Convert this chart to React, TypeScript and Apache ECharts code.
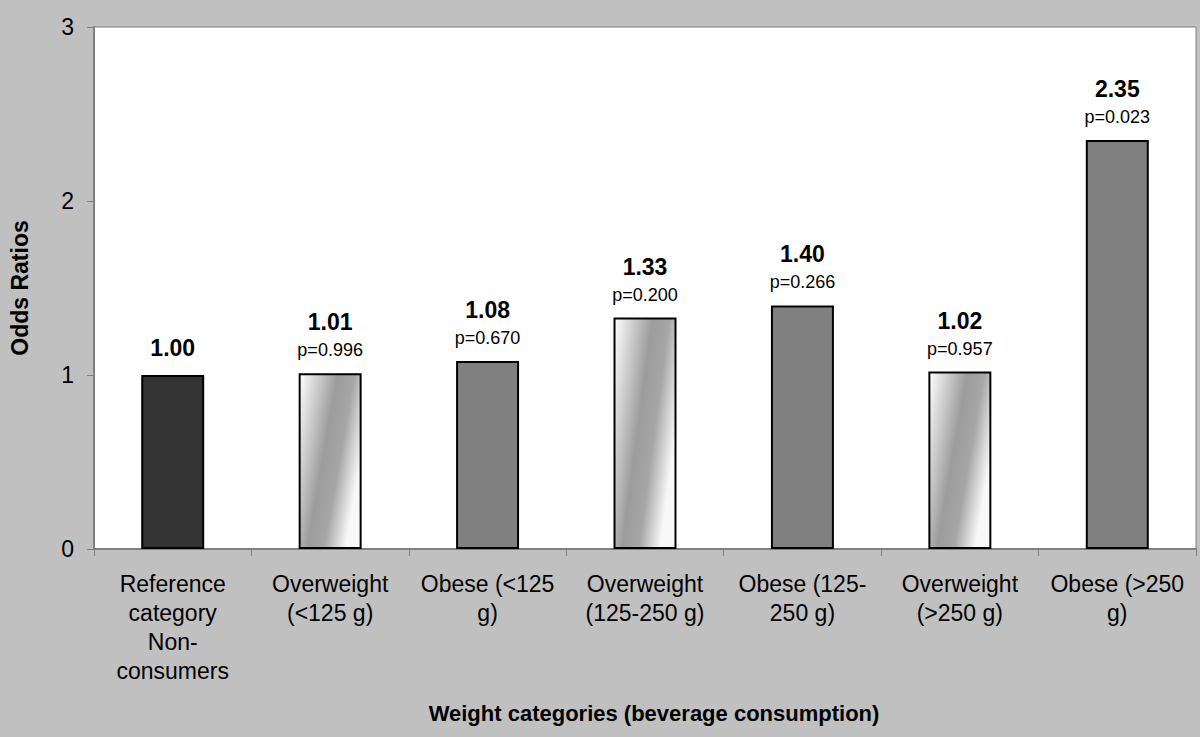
import React, { useEffect, useRef } from "react";
import * as echarts from "echarts";

const categories = [
  "Reference\ncategory\nNon-\nconsumers",
  "Overweight\n(<125 g)",
  "Obese (<125\ng)",
  "Overweight\n(125-250 g)",
  "Obese (125-\n250 g)",
  "Overweight\n(>250 g)",
  "Obese (>250\ng)",
];
const oddsRatios = [1.0, 1.01, 1.08, 1.33, 1.4, 1.02, 2.35];
const pValues = ["", "p=0.996", "p=0.670", "p=0.200", "p=0.266", "p=0.957", "p=0.023"];
const barKinds = ["reference", "overweight", "obese", "overweight", "obese", "overweight", "obese"];
const yTicks = [0, 1, 2, 3];

const FONT = "Liberation Sans, Arial, sans-serif";

function fillFor(kind: string): any {
  if (kind === "reference") return "#333333";
  if (kind === "obese") return "#808080";
  return new echarts.graphic.LinearGradient(0, 0, 1, 0.5, [
    { offset: 0, color: "#ffffff" },
    { offset: 0.5, color: "#9c9c9c" },
    { offset: 0.72, color: "#a6a6a6" },
    { offset: 1, color: "#f8f8f8" },
  ]);
}

export default function App() {
  const ref = useRef<HTMLDivElement>(null);
  useEffect(() => {
    if (!ref.current) return;
    const chart = echarts.init(ref.current, undefined, { renderer: "svg" });
    chart.setOption({
      animation: false,
      backgroundColor: "#c0c0c0",
      textStyle: { fontFamily: FONT },
      grid: {
        left: 89,
        right: 4,
        top: 27,
        bottom: 188,
        show: true,
        backgroundColor: "#ffffff",
        borderColor: "#808080",
        borderWidth: 1,
      },
      xAxis: {
        type: "category",
        data: categories,
        name: "Weight categories (beverage consumption)",
        nameLocation: "middle",
        nameGap: 153,
        nameTextStyle: {
          fontFamily: FONT,
          fontWeight: "bold",
          fontSize: 22,
          color: "#000",
          padding: [0, 0, 0, 18],
        },
        axisLine: { lineStyle: { color: "#808080", width: 2 } },
        axisTick: { show: true, alignWithLabel: false, length: 7, lineStyle: { color: "#808080" } },
        axisLabel: {
          interval: 0,
          fontFamily: FONT,
          fontSize: 23,
          color: "#000",
          lineHeight: 29,
          margin: 20,
        },
      },
      yAxis: {
        type: "value",
        min: yTicks[0],
        max: yTicks[yTicks.length - 1],
        interval: 1,
        name: "Odds Ratios",
        nameLocation: "middle",
        nameGap: 63,
        nameTextStyle: { fontFamily: FONT, fontWeight: "bold", fontSize: 23, color: "#000" },
        axisLine: { show: true, lineStyle: { color: "#808080", width: 2 } },
        axisTick: { show: true, length: 7, lineStyle: { color: "#808080" } },
        axisLabel: { fontFamily: FONT, fontSize: 23, color: "#000", margin: 20 },
        splitLine: { show: false },
      },
      series: [
        {
          type: "bar",
          barWidth: "40%",
          data: oddsRatios.map((v, i) => ({
            value: v,
            itemStyle: { color: fillFor(barKinds[i]), borderColor: "#000", borderWidth: 2 },
            label: {
              show: true,
              position: "top",
              distance: 11,
              formatter: pValues[i]
                ? `{v|${v.toFixed(2)}}\n{p|${pValues[i]}}`
                : `{v|${v.toFixed(2)}}`,
              rich: {
                v: { fontFamily: FONT, fontWeight: "bold", fontSize: 23, color: "#000", lineHeight: 32 },
                p: { fontFamily: FONT, fontSize: 18, color: "#000", lineHeight: 24 },
              },
            },
          })),
        },
      ],
    });
    return () => chart.dispose();
  }, []);
  return (
    <div
      ref={ref}
      style={{ position: "fixed", left: 0, top: 0, width: 1200, height: 737 }}
    />
  );
}
